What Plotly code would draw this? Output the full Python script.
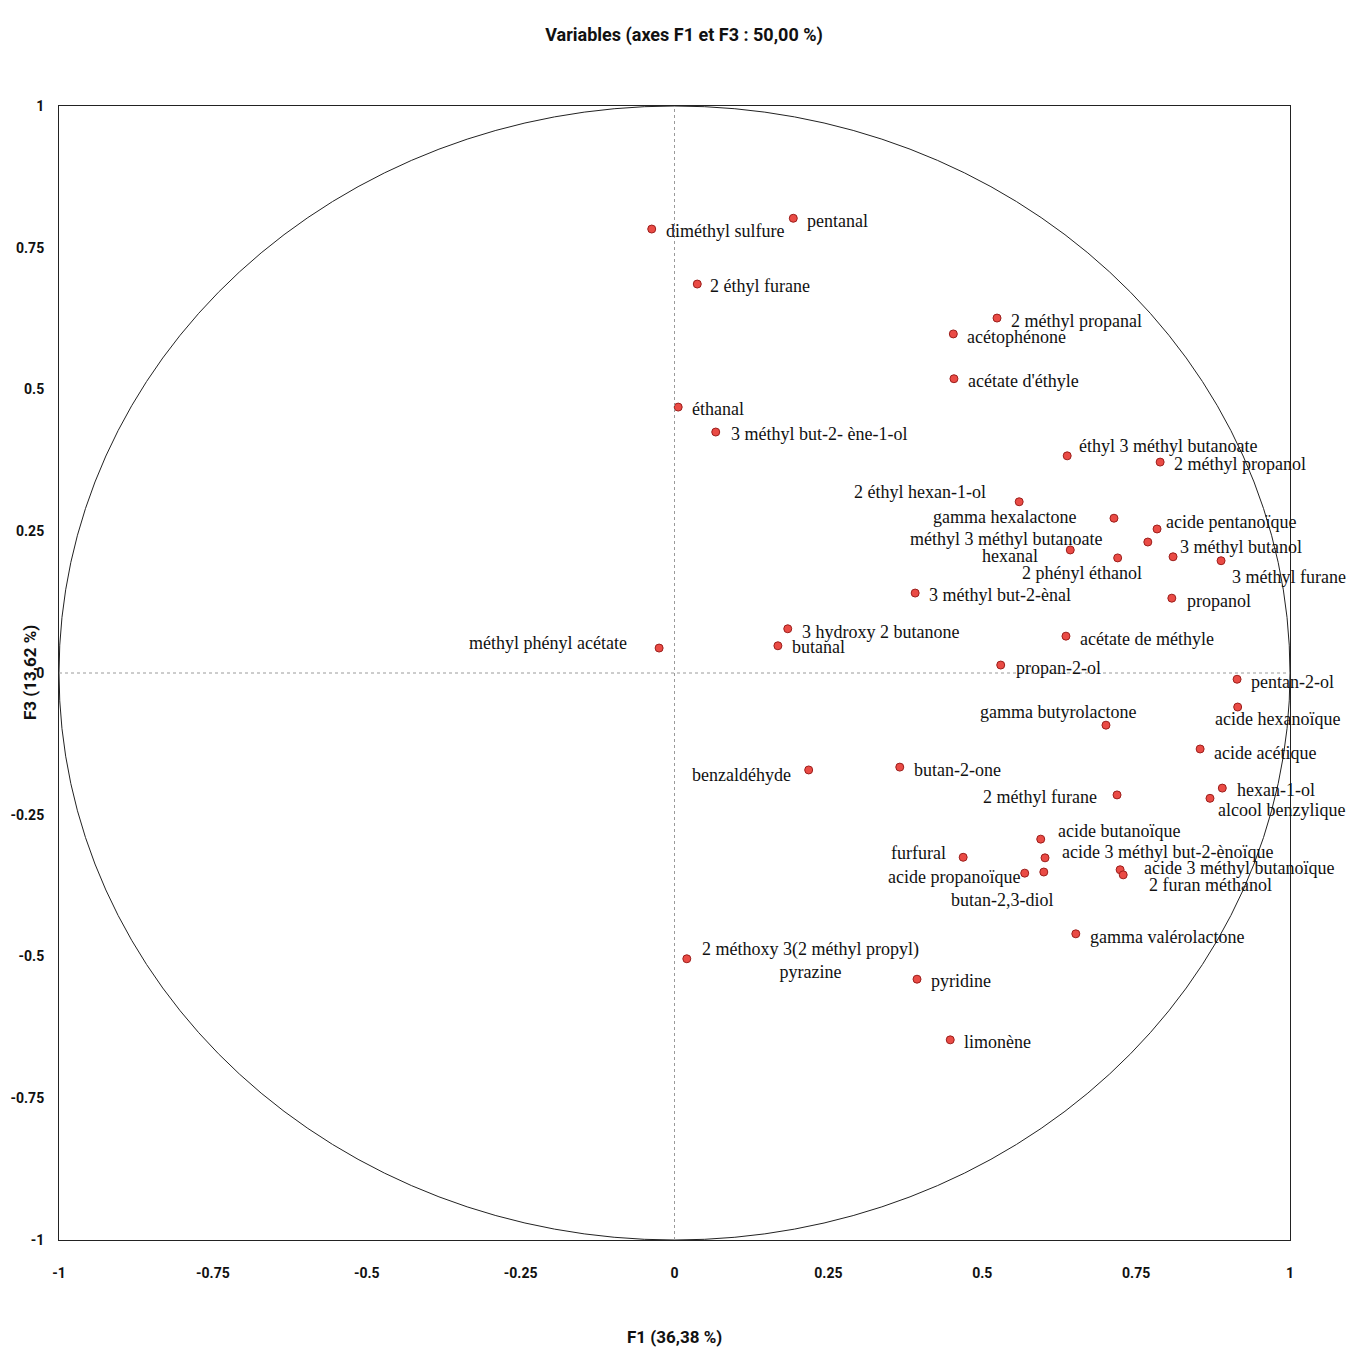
import plotly.graph_objects as go

# ---------------- data ----------------
variables = [
    "diméthyl sulfure", "pentanal", "2 éthyl furane", "2 méthyl propanal", "acétophénone",
    "acétate d'éthyle", "éthanal", "3 méthyl but-2- ène-1-ol", "éthyl 3 méthyl butanoate",
    "2 méthyl propanol", "2 éthyl hexan-1-ol", "gamma hexalactone", "acide pentanoïque",
    "méthyl 3 méthyl butanoate", "hexanal", "2 phényl éthanol", "3 méthyl butanol",
    "3 méthyl furane", "propanol", "3 méthyl but-2-ènal", "3 hydroxy 2 butanone", "butanal",
    "méthyl phényl acétate", "acétate de méthyle", "propan-2-ol", "pentan-2-ol",
    "acide hexanoïque", "gamma butyrolactone", "acide acétique", "benzaldéhyde", "butan-2-one",
    "2 méthyl furane", "hexan-1-ol", "alcool benzylique", "acide butanoïque", "furfural",
    "acide 3 méthyl but-2-ènoïque", "acide propanoïque", "butan-2,3-diol",
    "acide 3 méthyl butanoïque", "2 furan méthanol", "gamma valérolactone",
    "2 méthoxy 3(2 méthyl propyl)<br>pyrazine", "pyridine", "limonène",
]
f1 = [
    -0.037, 0.193, 0.037, 0.524, 0.453,
    0.454, 0.006, 0.067, 0.638,
    0.789, 0.560, 0.714, 0.784,
    0.769, 0.643, 0.720, 0.810,
    0.888, 0.808, 0.391, 0.184, 0.168,
    -0.025, 0.636, 0.530, 0.914,
    0.915, 0.701, 0.854, 0.218, 0.366,
    0.719, 0.890, 0.870, 0.595, 0.469,
    0.602, 0.569, 0.600,
    0.724, 0.729, 0.652,
    0.020, 0.394, 0.448,
]
f3 = [
    0.783, 0.802, 0.686, 0.626, 0.598,
    0.519, 0.469, 0.425, 0.383,
    0.372, 0.302, 0.273, 0.254,
    0.231, 0.217, 0.203, 0.205,
    0.198, 0.132, 0.141, 0.078, 0.048,
    0.044, 0.065, 0.014, -0.011,
    -0.060, -0.092, -0.134, -0.171, -0.166,
    -0.215, -0.203, -0.221, -0.293, -0.325,
    -0.326, -0.353, -0.351,
    -0.347, -0.356, -0.460,
    -0.504, -0.540, -0.647,
]
tick_vals = [-1, -0.75, -0.5, -0.25, 0, 0.25, 0.5, 0.75, 1]
tick_text = ["-1", "-0.75", "-0.5", "-0.25", "0", "0.25", "0.5", "0.75", "1"]

# label placement style: (anchor, dx px, dy px downwards)
label_style = [
    ("left", 12, 2), ("left", 12, 3), ("left", 11, 2), ("left", 12, 3), ("left", 12, 3),
    ("left", 12, 2), ("left", 12, 2), ("left", 13, 2), ("left", 10, -10),
    ("left", 12, 2), ("right", -31, -10), ("right", -36, -1), ("left", 7, -7),
    ("right", -44, -3), ("right", -30, 6), ("right", 26, 15), ("left", 5, -10),
    ("left", 9, 16), ("left", 13, 3), ("left", 12, 2), ("left", 12, 3), ("left", 12, 1),
    ("right", -30, -5), ("left", 12, 3), ("left", 13, 3), ("left", 12, 3),
    ("left", -25, 12), ("center", -48, -13), ("left", 12, 4), ("right", -16, 5), ("left", 12, 3),
    ("right", -18, 2), ("left", 13, 2), ("left", 6, 12), ("left", 15, -8), ("right", -15, -4),
    ("left", 15, -6), ("right", -3, 4), ("center", -42, 28),
    ("left", 22, -2), ("left", 24, 10), ("left", 12, 3),
    ("left", 13, 2), ("left", 12, 2), ("left", 12, 2),
]

LABEL_FONT = dict(family="Liberation Serif, Times New Roman, serif", size=18, color="#111111")
BOLD_FONT = "Liberation Sans Narrow, Roboto, Arial Narrow, sans-serif"

fig = go.Figure()

# unit circle
fig.add_shape(type="circle", xref="x", yref="y", x0=-1, y0=-1, x1=1, y1=1,
              line=dict(color="#222222", width=1))
# dotted zero lines
fig.add_shape(type="line", xref="x", yref="y", x0=0, x1=0, y0=-1, y1=1,
              line=dict(color="#9a9a9a", width=1, dash="dot"))
fig.add_shape(type="line", xref="x", yref="y", x0=-1, x1=1, y0=0, y1=0,
              line=dict(color="#9a9a9a", width=1, dash="dot"))

fig.add_trace(go.Scatter(
    x=f1, y=f3, mode="markers",
    marker=dict(size=8, color="#ea4b45", line=dict(color="#9c1f1c", width=1)),
    hovertext=variables, hoverinfo="text", showlegend=False,
))

for name, x, y, (anc, dx, dy) in zip(variables, f1, f3, label_style):
    fig.add_annotation(
        x=x, y=y, xref="x", yref="y", text=name, showarrow=False,
        xanchor=anc, yanchor="middle", xshift=dx, yshift=-dy,
        font=LABEL_FONT, align="center",
    )

# axis titles
fig.add_annotation(x=0.5, y=0, xref="paper", yref="paper", yshift=-97,
                   text="F1 (36,38 %)", showarrow=False, xanchor="center", yanchor="middle",
                   font=dict(family=BOLD_FONT, size=17, color="#111111", weight="bold"))
fig.add_annotation(x=0, y=0.5, xref="paper", yref="paper", xshift=-29,
                   text="F3 (13,62 %)", showarrow=False, textangle=-90,
                   xanchor="center", yanchor="middle",
                   font=dict(family=BOLD_FONT, size=17, color="#111111", weight="bold"))

fig.update_layout(
    width=1362, height=1343,
    margin=dict(l=51, r=80, t=98, b=111),
    paper_bgcolor="white", plot_bgcolor="white",
    title=dict(text="Variables (axes F1 et F3 : 50,00 %)", x=676 / 1362, xanchor="center",
               xref="container",
               y=1 - 27 / 1343, yanchor="middle",
               font=dict(family=BOLD_FONT, size=18, color="#111111", weight="bold")),
    xaxis=dict(range=[-1, 1], tickvals=tick_vals, ticktext=tick_text, showgrid=False,
               zeroline=False, showline=True, linecolor="#222222", linewidth=1, mirror=True,
               ticks="", ticklabelstandoff=20, automargin=False,
               tickfont=dict(family=BOLD_FONT, size=14, color="#111111", weight="bold")),
    yaxis=dict(range=[-1, 1], tickvals=tick_vals, ticktext=tick_text, showgrid=False,
               zeroline=False, showline=True, linecolor="#222222", linewidth=1, mirror=True,
               ticks="", ticklabelstandoff=11, automargin=False,
               tickfont=dict(family=BOLD_FONT, size=14, color="#111111", weight="bold")),
)

fig.write_html("out.html")
